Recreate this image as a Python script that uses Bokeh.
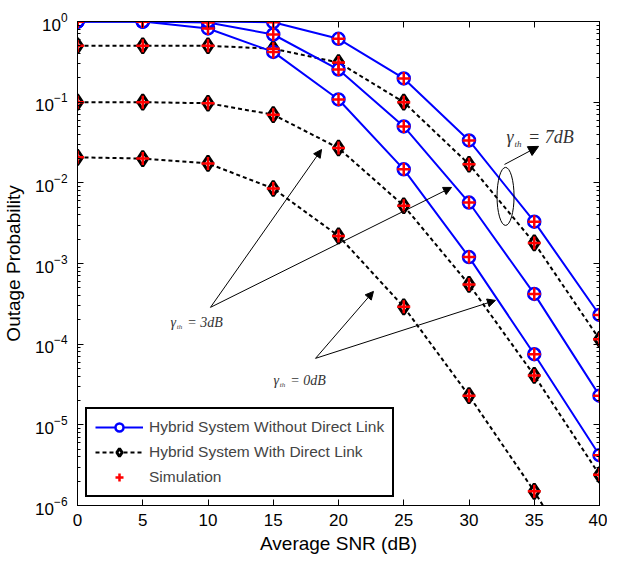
from bokeh.plotting import figure
from bokeh.models import (Legend, LegendItem, LinearAxis, LogAxis, FixedTicker, LogTicker,
                          Arrow, NormalHead, Label, Range1d, CustomJSTickFormatter)
from bokeh.embed import file_html
from bokeh.resources import INLINE

# ---------------- data ----------------
snr = [0, 5, 10, 15, 20, 25, 30, 35, 40]
# Hybrid system without direct link (analytical), gamma_th = 0, 3, 7 dB
without_0dB = [1.0, 1.0, 0.82, 0.42, 0.108, 0.0147, 0.0012, 7.5e-5, 4.2e-6]
without_3dB = [1.0, 1.0, 0.97, 0.69, 0.254, 0.050, 0.0057, 4.2e-4, 2.3e-5]
without_7dB = [1.0, 1.0, 1.0, 0.98, 0.61, 0.197, 0.0335, 0.0033, 2.3e-4]
# Hybrid system with direct link (analytical)
with_0dB = [0.0207, 0.020, 0.0174, 0.0085, 0.0022, 2.9e-4, 2.3e-5, 1.5e-6, 7e-8]
with_3dB = [0.10, 0.10, 0.097, 0.070, 0.027, 0.0052, 5.5e-4, 4.1e-5, 2.4e-6]
with_7dB = [0.50, 0.50, 0.50, 0.46, 0.31, 0.10, 0.017, 0.0018, 1.15e-4]
without_series = [without_0dB, without_3dB, without_7dB]
with_series = [with_0dB, with_3dB, with_7dB]
x_ticks = [0, 5, 10, 15, 20, 25, 30, 35, 40]

FONT = "Liberation Sans"

p = figure(frame_width=522, frame_height=484, y_axis_type="log",
           x_range=Range1d(0, 40), y_range=Range1d(1e-6, 1.0),
           output_backend="svg", toolbar_location=None,
           min_border_left=71, min_border_top=21, min_border_right=8, min_border_bottom=42)
p.background_fill_color = "white"
p.border_fill_color = "white"
p.grid.visible = False
p.outline_line_color = "black"
p.outline_line_width = 1

# axes styling
xa = p.xaxis[0]
xa.ticker = FixedTicker(ticks=x_ticks)
xa.axis_label = "Average SNR (dB)"
ya = p.yaxis[0]
ya.ticker = LogTicker(num_minor_ticks=10)
ya.axis_label = "Outage Probability"
for ax in (xa, ya):
    ax.axis_label_text_font = FONT
    ax.axis_label_text_font_size = "19px"
    ax.axis_label_text_font_style = "normal"
    ax.major_label_text_font = FONT
    ax.major_label_text_font_size = "17px"
    ax.major_tick_in = 6
    ax.major_tick_out = 0
    ax.minor_tick_in = 3
    ax.minor_tick_out = 0
    ax.axis_line_color = "black"
    ax.major_tick_line_color = "black"
    ax.minor_tick_line_color = "black"
    ax.major_label_text_color = "black"
    ax.axis_label_text_color = "black"
xa.major_label_standoff = 8
xa.axis_label_standoff = 4
ya.major_label_standoff = 10
ya.axis_label_standoff = 8

top = LinearAxis(ticker=FixedTicker(ticks=x_ticks), major_tick_in=6, major_tick_out=0,
                 formatter=CustomJSTickFormatter(code="return ''"), major_label_standoff=0,
                 major_label_text_font_size="1px")
right = LogAxis(ticker=LogTicker(num_minor_ticks=10), major_tick_in=6, major_tick_out=0,
                minor_tick_in=3, minor_tick_out=0, formatter=CustomJSTickFormatter(code="return ''"),
                major_label_standoff=0, major_label_text_font_size="1px")
p.add_layout(top, "above")
p.add_layout(right, "right")

# ---------------- curves ----------------
blue_line = blue_circ = None
blk_line = blk_dia = None
sims = []
for ys in with_series:
    r1 = p.line(snr, ys, line_color="black", line_width=2, line_dash="4 3")
    r2 = p.scatter(snr, ys, marker="diamond", size=15, line_color="black", line_width=3,
                   fill_color="white")
    blk_line, blk_dia = r1, r2
for ys in without_series:
    r1 = p.line(snr, ys, line_color="#0000ff", line_width=2)
    r2 = p.scatter(snr, ys, marker="circle", size=12, line_color="#0000ff", line_width=2.5,
                   fill_color="white")
    blue_line, blue_circ = r1, r2
for ys in with_series + without_series:
    s = p.scatter(snr, ys, marker="cross", size=13, line_color="red", line_width=2.5)
    sims.append(s)

# ---------------- annotations ----------------
def gamma_label(x, y, val, big):
    gs = 18 if big else 14
    ss = 9 if big else 7
    col = "#333333"
    p.add_layout(Label(x=x, y=y, text="γ", text_font="Liberation Serif", text_font_style="italic",
                       text_font_size=f"{gs}px", text_baseline="middle", text_color=col))
    p.add_layout(Label(x=x, y=y, x_offset=gs * 0.45, y_offset=-gs * 0.35, text="th",
                       text_font="Liberation Serif", text_font_style="italic",
                       text_font_size=f"{ss}px", text_baseline="middle", text_color=col))
    p.add_layout(Label(x=x, y=y, x_offset=gs * 1.2, text=f"= {val}dB", text_font="Liberation Serif",
                       text_font_style="italic", text_font_size=f"{gs}px", text_baseline="middle",
                       text_color=col))

gamma_label(32.87, 0.0365, 7, True)
gamma_label(7.13, 1.86e-4, 3, False)
gamma_label(15.02, 3.56e-5, 0, False)

def arrow(x0, y0, x1, y1, size=8):
    p.add_layout(Arrow(end=NormalHead(size=size, fill_color="black", line_color="black", line_width=1),
                       x_start=x0, y_start=y0, x_end=x1, y_end=y1, line_width=1, line_color="black"))

# 7 dB
arrow(32.72, 0.0169, 35.33, 0.0283, 10)
p.ellipse(x=[32.80], y=[0.00679], width=17, height=58, width_units="screen", height_units="screen",
          fill_color=None, line_color="black", line_width=1)
# 3 dB
arrow(10.19, 2.86e-4, 18.70, 0.0259)
arrow(10.19, 2.86e-4, 28.66, 0.00877)
# 0 dB
arrow(18.24, 6.67e-5, 22.68, 4.51e-4)
arrow(18.24, 6.67e-5, 32.03, 3.49e-4)

# ---------------- legend ----------------
legend = Legend(items=[
    LegendItem(label="Hybrid System Without Direct Link", renderers=[blue_line, blue_circ]),
    LegendItem(label="Hybrid System With Direct Link", renderers=[blk_line, blk_dia]),
    LegendItem(label="Simulation", renderers=[sims[0]]),
], location="bottom_left", margin=8, padding=8, spacing=5, glyph_width=48, glyph_height=20,
    label_standoff=6, label_text_font=FONT, label_text_font_size="15.5px", label_height=20,
    border_line_color="black", border_line_width=2, border_line_alpha=1.0,
    background_fill_alpha=1.0)
p.add_layout(legend, "center")

open("out.html", "w").write(file_html(p, INLINE))
